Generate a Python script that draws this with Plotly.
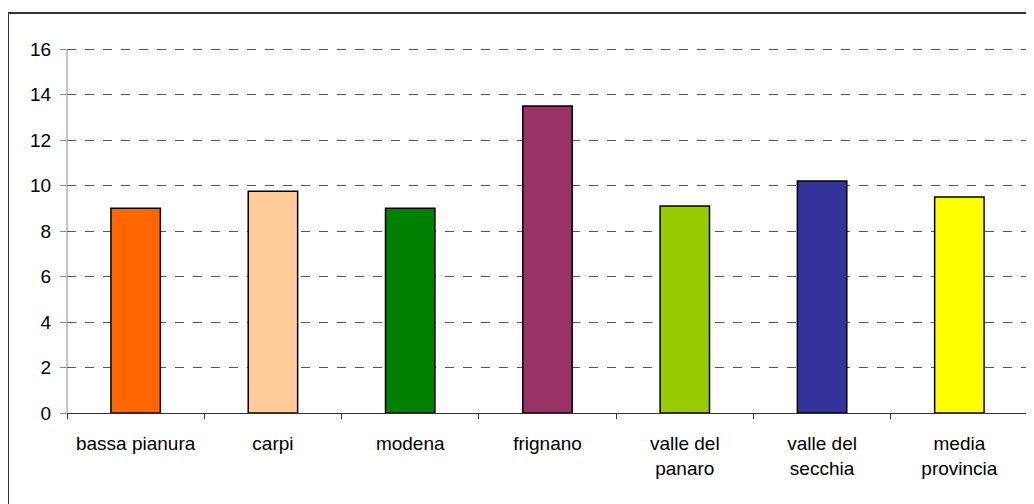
import plotly.graph_objects as go

categories = ["bassa pianura", "carpi", "modena", "frignano",
              "valle del<br>panaro", "valle del<br>secchia", "media<br>provincia"]
values = [9.0, 9.75, 9.0, 13.5, 9.1, 10.2, 9.5]
colors = ["#FF6600", "#FFCC99", "#008000", "#993366", "#99CC00", "#333399", "#FFFF00"]
y_ticks = [0, 2, 4, 6, 8, 10, 12, 14, 16]

# page body has an 8px margin, so figure origin is at (8, 8) of the window
OFF = 8
W, H = 1026, 496
px_per_unit = (413 - 49) / 16.0
T = 34
L = 67 - OFF
plot_right = 1028 - OFF
plot_bottom = 413 - OFF
R, B = W - plot_right, H - plot_bottom
pw, ph = plot_right - L, plot_bottom - T
y_top = ph / px_per_unit

def px_x(x):
    return (x - OFF - L) / pw

def px_y(y):
    return (plot_bottom - (y - OFF)) / ph

fig = go.Figure()
fig.add_trace(go.Bar(
    x=categories, y=values,
    marker=dict(color=colors, line=dict(color="#000000", width=1.5)),
    width=0.36,
))

fig.update_layout(
    width=W, height=H,
    margin=dict(l=L, r=R, t=T, b=B),
    paper_bgcolor="white", plot_bgcolor="white",
    showlegend=False,
    font=dict(family="Liberation Sans, Arial, sans-serif", size=19, color="#000000"),
    xaxis=dict(
        type="category",
        showline=True, linecolor="#333333", linewidth=1,
        ticks="outside", ticklen=5, tickcolor="#333333", tickson="boundaries",
        showgrid=False, ticklabelstandoff=13,
        tickfont=dict(size=19),
    ),
    yaxis=dict(
        range=[0, y_top], tickvals=y_ticks,
        showline=False,
        ticks="outside", ticklen=6, tickcolor="#888888",
        showgrid=True, gridcolor="#555555", gridwidth=1, griddash="dash",
        zeroline=False, ticklabelstandoff=5,
        tickfont=dict(size=19),
    ),
    shapes=[
        dict(
            type="rect", xref="paper", yref="paper",
            x0=px_x(8), x1=px_x(1045), y0=px_y(530), y1=px_y(13),
            line=dict(color="#333333", width=2), fillcolor="rgba(0,0,0,0)",
            layer="below",
        ),
        dict(
            type="line", xref="paper", yref="y",
            x0=0, x1=0, y0=0, y1=16,
            line=dict(color="#888888", width=1),
        ),
    ],
)

fig.write_html("out.html")
